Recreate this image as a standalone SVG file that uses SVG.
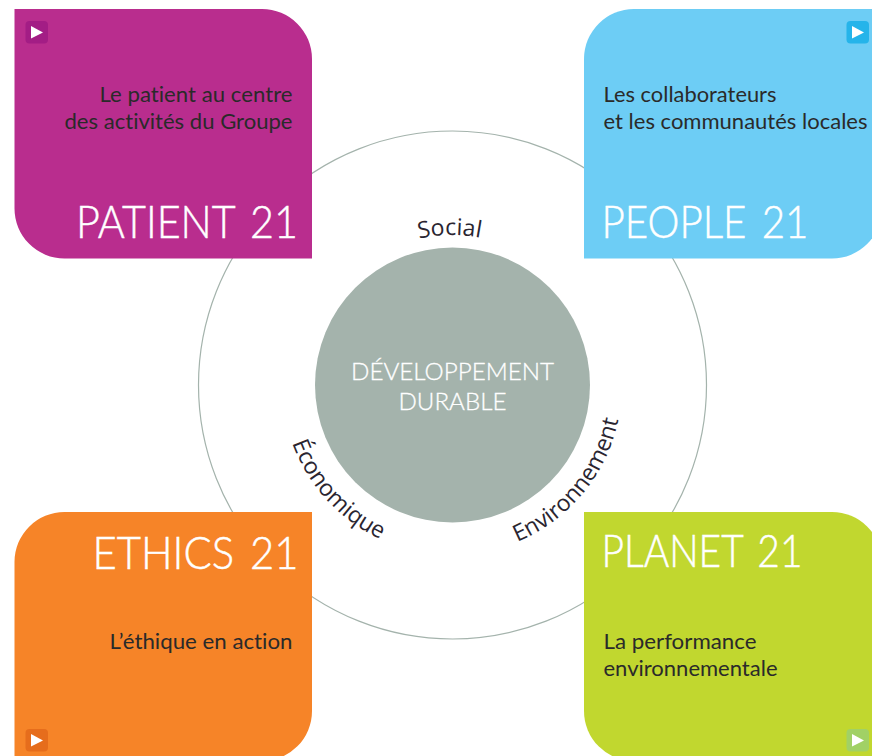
<svg xmlns="http://www.w3.org/2000/svg" xmlns:xlink="http://www.w3.org/1999/xlink" width="872" height="756" viewBox="0 0 872 756">
<style>
.t{font-family:"Lato","Liberation Sans",sans-serif;font-weight:300;font-size:46px;fill:#fff;stroke:#fff;stroke-width:.5px;word-spacing:5px}
.b{font-family:"Lato","Liberation Sans",sans-serif;font-size:22px;fill:#2a2a2a;font-variant-ligatures:none}
.c{font-family:"Lato","Liberation Sans",sans-serif;font-weight:300;font-size:24px;fill:#fff;stroke:#fff;stroke-width:.3px;text-anchor:middle}
.a{font-family:"Open Sans","Liberation Sans",sans-serif;font-size:23px;fill:#2a2530}
.tri{fill:#fff}
</style>
<defs>
<path id="arcS" d="M 302 385 A 150 150 0 0 1 602 385"/>
<path id="arcE" d="M 282 385 A 170 170 0 0 0 622 385"/>
</defs>
<g id="connectors">
<circle cx="452.500" cy="385" r="254" fill="none" stroke="#a4b3ac" stroke-width="1.2"/>
</g>
<g id="center">
<circle cx="452.500" cy="385" r="137.500" fill="#a4b3ac"/>
<text class="c" x="452.500" y="380" textLength="203" lengthAdjust="spacingAndGlyphs">DÉVELOPPEMENT</text>
<text class="c" x="452.500" y="410" textLength="108" lengthAdjust="spacingAndGlyphs">DURABLE</text>
</g>
<g id="label-social"><text class="a"><textPath xlink:href="#arcS" href="#arcS" startOffset="49.500%" text-anchor="middle">Social</textPath></text></g>
<g id="label-economique"><text class="a"><textPath xlink:href="#arcE" href="#arcE" startOffset="23.600%" text-anchor="middle">Économique</textPath></text></g>
<g id="label-environnement"><text class="a"><textPath xlink:href="#arcE" href="#arcE" startOffset="78%" text-anchor="middle">Environnement</textPath></text></g>
<g id="patient">
<path d="M14.500 9H262A50 50 0 0 1 312 59V258.500H64.500A50 50 0 0 1 14.500 208.500Z" fill="#b92d8e"/>
<rect x="25.500" y="21" width="22.500" height="22.500" rx="4" fill="#a31d85"/>
<path class="tri" d="M31 26L43 32.500L31 38.500Z"/>
<text class="b" x="292.500" y="101.500" text-anchor="end" textLength="193" lengthAdjust="spacingAndGlyphs">Le patient au centre</text>
<text class="b" x="292.500" y="128.500" text-anchor="end" textLength="228" lengthAdjust="spacingAndGlyphs">des activités du Groupe</text>
<text class="t" x="298" y="238" text-anchor="end" textLength="222" lengthAdjust="spacingAndGlyphs">PATIENT 21</text>
</g>
<g id="people">
<path d="M634 9H882V208.500A50 50 0 0 1 832 258.500H584V59A50 50 0 0 1 634 9Z" fill="#6dcdf5"/>
<rect x="846.500" y="21" width="22.500" height="22.500" rx="4" fill="#25b4ea"/>
<path class="tri" d="M852 26L864 32.500L852 38.500Z"/>
<text class="b" x="603.500" y="101.500" textLength="173" lengthAdjust="spacingAndGlyphs">Les collaborateurs</text>
<text class="b" x="603.500" y="128.500" textLength="264" lengthAdjust="spacingAndGlyphs">et les communautés locales</text>
<text class="t" x="601.500" y="238" textLength="207" lengthAdjust="spacingAndGlyphs">PEOPLE 21</text>
</g>
<g id="ethics">
<path d="M64.500 512H312V711A50 50 0 0 1 262 761H14.500V562A50 50 0 0 1 64.500 512Z" fill="#f68428"/>
<rect x="25.500" y="729" width="22.500" height="22.500" rx="4" fill="#e66d1c"/>
<path class="tri" d="M31 734L43 740.500L31 746.500Z"/>
<text class="b" x="292.500" y="648.500" text-anchor="end" textLength="183" lengthAdjust="spacingAndGlyphs">L’éthique en action</text>
<text class="t" x="298.500" y="569" text-anchor="end" textLength="206" lengthAdjust="spacingAndGlyphs">ETHICS 21</text>
</g>
<g id="planet">
<path d="M584 512H832A50 50 0 0 1 882 562V761H634A50 50 0 0 1 584 711Z" fill="#c1d72f"/>
<rect x="846.500" y="729" width="22.500" height="22.500" rx="4" fill="#a1d165"/>
<path class="tri" d="M852 734L864 740.500L852 746.500Z"/>
<text class="b" x="603.500" y="648.500" textLength="153" lengthAdjust="spacingAndGlyphs">La performance</text>
<text class="b" x="603.500" y="675.500" textLength="174" lengthAdjust="spacingAndGlyphs">environnementale</text>
<text class="t" x="601.500" y="567" textLength="201" lengthAdjust="spacingAndGlyphs">PLANET 21</text>
</g>
</svg>
